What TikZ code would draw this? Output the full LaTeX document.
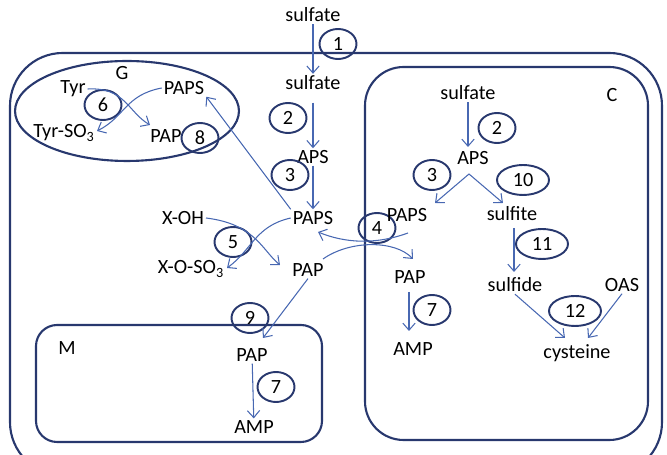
\documentclass[tikz,border=0pt]{standalone}
\usepackage{fontspec}
\setmainfont{Carlito}
\usetikzlibrary{arrows.meta,shapes.geometric}

\definecolor{wallblue}{RGB}{40,56,110}
\definecolor{flowblue}{RGB}{72,104,178}

\tikzset{
  metab/.style={inner sep=1pt, font=\fontsize{11.5}{13}\selectfont},
  enz/.style={ellipse, draw=wallblue, line width=1.1pt, inner sep=0pt,
    minimum width=0.74cm, minimum height=0.6cm, font=\fontsize{11.5}{13}\selectfont},
  enzwide/.style={enz, minimum width=1.04cm},
  flow/.style={draw=flowblue, line width=0.6pt, -{Straight Barb[length=4pt,width=7pt]}},
  wall/.style={draw=wallblue, line width=1.2pt}
}

\begin{document}
\begin{tikzpicture}[x=0.02cm, y=-0.02cm]
    \useasboundingbox (0,0) rectangle (667,455);

    % Compartments
    \begin{scope}
      \clip (0,0) rectangle (667,455);
      \draw[wall, rounded corners=30pt] (10,53) rectangle (662,475);
    \end{scope}
    \draw[wall, rounded corners=22pt] (365,67) rectangle (648,440);
    \draw[wall, rounded corners=12pt] (36,325) rectangle (322,442);
    \draw[wall] (127,111) ellipse [x radius=2.24cm, y radius=1cm];
    \node[metab] (lblG) at (122,73) {G};
    \node[metab] (lblC) at (612,95) {C};
    \node[metab] (lblM) at (67,348) {M};

    % Cytosol
    \node[metab] (so4out) at (313,15) {sulfate};
    \node[metab] (so4cyt) at (313,83) {sulfate};
    \node[metab] (apscyt) at (313,157) {APS};
    \node[metab] (papscyt) at (313,218) {PAPS};
    \node[metab] (papcyt) at (308,270) {PAP};
    \node[metab] (xoh) at (183,218) {X-OH};
    \node[metab] (xoso) at (191,269) {X-O-SO\textsubscript{3}};
    \node[enz] (e1) at (338,44) {1};
    \node[enz] (e2c) at (288,118) {2};
    \node[enz] (e3c) at (290,175) {3};
    \node[enz] (e5) at (233,242) {5};
    \node[enz] (e4) at (377,228) {4};
    \node[enz] (e9) at (250,318) {9};
    \draw[flow] (so4out) -- (so4cyt);
    \draw[flow] ([yshift=-6pt]so4cyt.south) -- (apscyt);
    \draw[flow] (apscyt) -- (papscyt);
    \draw[flow] (xoh.east) .. controls (255,224) and (262,250) .. (280,265);
    \draw[flow] (papscyt.west) .. controls (255,226) and (252,250) .. (227,268);

    % Golgi
    \node[metab] (tyr) at (73,89) {Tyr};
    \node[metab] (papsg) at (184,88) {PAPS};
    \node[metab] (tyrso) at (64,133) {Tyr-SO\textsubscript{3}};
    \node[metab] (papg) at (166,136) {PAP};
    \node[enz] (e6) at (103,105) {6};
    \node[enz] (e8) at (200,138) {8};
    \draw[flow] (tyr.east) .. controls (125,87) and (128,112) .. (150,125);
    \draw[flow] (papsg.west) .. controls (125,95) and (125,117) .. (97,131);
    \draw[flow] (papscyt.north west) -- (papsg.south east);

    % Chloroplast
    \node[metab] (so4chl) at (468,93) {sulfate};
    \node[metab] (apschl) at (473,158) {APS};
    \node[metab] (papschl) at (407,215) {PAPS};
    \node[metab] (sulfite) at (512,214) {sulfite};
    \node[metab] (sulfide) at (515,285) {sulfide};
    \node[metab] (oas) at (622,285) {OAS};
    \node[metab] (cys) at (577,353) {cysteine};
    \node[metab] (papchl) at (410,277) {PAP};
    \node[metab] (ampchl) at (413,349) {AMP};
    \node[enz] (e2p) at (497,128) {2};
    \node[enz] (e3p) at (432,175) {3};
    \node[enzwide] (e10) at (523,180) {10};
    \node[enzwide] (e11) at (542,244) {11};
    \node[enzwide] (e12) at (575,311) {12};
    \node[enz] (e7p) at (432,310) {7};
    \coordinate (fork) at (469,174);
    \draw[flow] (so4chl) -- (468,147);
    \draw[flow] (fork) -- (435,203);
    \draw[flow] (fork) -- (503,203);
    \draw[flow] (514,228) -- (514,272);
    \draw[flow] (sulfide.south) -- (565,338);
    \draw[flow] (oas.south) -- (588,338);
    \draw[flow] (409,292) -- (409,331);

    % Exchange
    \draw[flow] (408,233) .. controls (375,245) and (345,243) .. (318,232);
    \draw[flow] (323,259) .. controls (350,240) and (395,240) .. (413,259);

    % Mitochondrion
    \node[metab] (papm) at (252,355) {PAP};
    \node[metab] (ampm) at (254,427) {AMP};
    \node[enz] (e7m) at (276,387) {7};
    \draw[flow] (papcyt.south) -- (263,338);
    \draw[flow] (papm) -- (ampm);
\end{tikzpicture}
\end{document}
